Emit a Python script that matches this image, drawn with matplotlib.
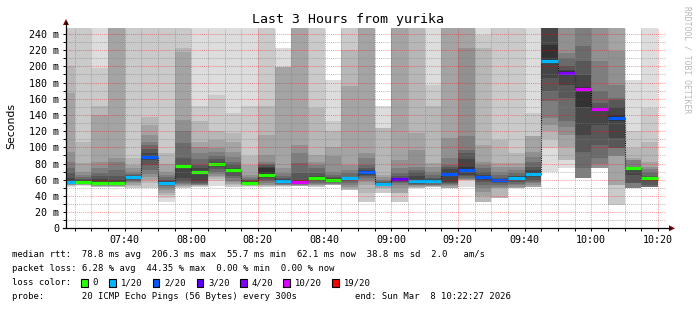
import matplotlib
matplotlib.use("Agg")
import matplotlib.pyplot as plt
from matplotlib.patches import Rectangle, Polygon
from matplotlib.lines import Line2D

# ---------------- data ----------------
# column end times (5-minute steps), minutes after 07:00
col_end = [25, 30, 35, 40, 45, 50, 55, 60, 65, 70, 75, 80, 85, 90, 95, 100, 105, 110,
           115, 120, 125, 130, 135, 140, 145, 150, 155, 160, 165, 170, 175, 180, 185, 190,
           195, 200]
# median rtt per column (ms)
median_ms = [57.6, 57.6, 55.7, 55.7, 63.1, 87.8, 56.4, 76.7, 70.0, 79.2, 72.5, 56.0,
             65.9, 58.5, 57.7, 62.6, 60.2, 61.8, 69.7, 55.2, 60.6, 58.1, 58.9, 67.6,
             72.5, 63.5, 59.3, 62.6, 67.6, 206.3, 191.7, 171.5, 146.8, 136.1, 74.2, 62.1]
# lost pings (out of 20) per column
loss = [1, 0, 0, 0, 1, 2, 1, 0, 0, 0, 0, 0, 0, 1, 10, 0, 0, 1, 2, 1, 3, 1, 1, 2,
        2, 2, 2, 1, 1, 1, 4, 10, 10, 2, 0, 0]
# sorted ping times per column (ms), 20 each ("smoke")
pings = [
    [51, 52, 53, 53.5, 54, 54.5, 55, 55.5, 56.5, 57, 58.5, 62, 68, 74, 82.5, 94.8, 167, 200, 260, 260],
    [52, 53, 53.5, 54, 54.5, 55, 55.5, 56, 56.5, 57, 58.3, 59.5, 61, 63, 66, 70, 80.4, 107, 260, 260],
    [50.5, 51, 51.5, 52, 52.5, 53, 53.5, 54, 54.5, 55, 57.5, 61, 64, 68, 74, 82.5, 140, 150.5, 198, 260],
    [50.5, 51, 51.5, 52, 52.5, 53, 53.5, 54, 54.5, 55, 57.5, 60, 64, 72, 82.5, 86.6, 260, 260, 260, 260],
    [49.5, 49.5, 52.5, 54, 56, 57, 58, 59.5, 61, 62.5, 63.5, 64.5, 65.5, 67, 70, 74, 78.4, 86.6, 260, 260],
    [49.5, 49.5, 56, 60, 63, 67, 72, 78, 84, 87, 89, 93, 98, 103, 107, 115.5, 128, 138, 260, 260],
    [32, 37, 41, 44, 47, 50, 52, 54, 55.3, 56, 57, 58, 60, 63, 66, 70, 80, 92.8, 260, 260],
    [49.5, 50, 51, 52, 53, 54.5, 56, 58, 62, 75, 77.5, 78.4, 86.6, 105, 119.6, 134, 218, 222.7, 260, 260],
    [50.5, 51, 52, 53, 53.5, 54, 55, 56, 58, 69, 71, 74, 78.4, 85, 92.8, 100, 107, 132, 150.5, 260],
    [52.8, 59, 61, 63, 65, 67, 70, 73, 76, 78, 80, 82, 85, 88.7, 94, 99, 109.3, 119.6, 164.9, 260],
    [51.5, 51.5, 53, 55, 57, 59, 62, 65, 68, 71, 73.5, 75, 78, 82.5, 88, 94.8, 107.2, 117.5, 142.3, 260],
    [51.5, 52, 52.5, 53, 53.5, 54, 54.4, 54.5, 55, 55.5, 57, 58, 59.8, 61, 63, 66, 78.4, 88.7, 150.5, 260],
    [51.5, 51.5, 52, 53, 54, 56, 58, 60, 62, 64, 74, 76.3, 78, 80, 82.5, 90.7, 115.5, 150.5, 260, 260],
    [51.5, 52, 52.5, 53, 53.5, 54, 55, 56, 57, 57.5, 59.5, 60.5, 62, 64, 68, 74.2, 198.8, 198.8, 198.8, 222.7],
    [52, 52, 52, 52.5, 53.5, 54, 55, 56, 56.5, 57, 58.5, 60, 68, 80.4, 92.8, 103, 260, 260, 260, 260],
    [51.5, 51.5, 52, 53, 54, 55, 56.5, 58.5, 60, 61.5, 63.5, 65, 68, 74.2, 78, 82.5, 90.7, 148.5, 260, 260],
    [53.6, 53.6, 53.6, 54, 54.5, 55, 55.7, 57, 58.5, 59.5, 61, 62, 63.9, 66, 70, 88.7, 101, 119.6, 132, 183.5],
    [47.4, 47.4, 47.4, 49.5, 51.5, 53.6, 55.7, 58, 60, 61, 62.3, 63, 63.9, 68, 72.2, 78.4, 175.3, 220.6, 260, 260],
    [33, 33, 43.3, 53.6, 57, 59.8, 62, 64, 66, 68, 71, 72.5, 75, 78.4, 86.6, 92.8, 260, 260, 260, 260],
    [43.3, 43.3, 49.5, 49.5, 53, 53.5, 54, 54.3, 54.6, 54.9, 56, 56.5, 57.5, 58.5, 59.8, 63, 66, 123.7, 123.7, 150.5],
    [33, 33, 43.3, 43.3, 50, 53.6, 55.5, 57, 58.5, 59.8, 61.5, 62.5, 64, 68, 74.2, 84.5, 260, 260, 260, 260],
    [49.5, 49.5, 50, 51, 52, 53, 54, 55, 56, 57, 60, 64, 70.1, 72, 76.3, 96.9, 117.5, 260, 260, 260],
    [51.5, 51.5, 51.5, 52, 52.5, 53, 54, 55.5, 57, 58, 59.5, 60.5, 61.9, 66, 70.1, 76, 80.4, 150.5, 177.3, 260],
    [49.5, 49.5, 49.5, 49.5, 52, 54, 55, 56, 57.7, 66, 69, 73, 76, 78.4, 86.6, 111.3, 260, 260, 260, 260],
    [51.5, 59.8, 59.8, 59.8, 59.8, 61, 62, 64, 66, 70, 76, 85, 92.8, 96.9, 113.4, 222.7, 260, 260, 260, 260],
    [33, 33, 33, 40, 45.4, 49.5, 53.6, 57, 60, 62.5, 64.5, 66, 70, 74.2, 78, 82.5, 103.1, 222.7, 239.2, 260],
    [37, 37, 37, 49.5, 49.5, 51.5, 53.6, 55.5, 57.5, 58.5, 60, 61, 61.9, 66, 70.1, 76, 80.4, 109.3, 260, 260],
    [49.5, 49.5, 49.5, 49.5, 51.5, 53.6, 55, 57.5, 60, 61.5, 63.2, 64, 65.2, 68, 72.2, 76, 80.4, 92.8, 260, 260],
    [51.5, 51.5, 51.5, 51.5, 54, 56, 57.7, 60, 63, 66, 69.5, 72, 76, 82.5, 88, 94.8, 113.4, 113.4, 142.3, 260],
    [70, 99, 110, 120, 127.8, 136, 156.7, 169, 185.6, 206.3, 226.8, 260, 260, 260, 260, 260, 260, 260, 260, 260],
    [74.2, 84.5, 84.5, 100, 115.5, 125, 132, 160.8, 177.3, 189.7, 193.8, 196, 200, 210.3, 216.5, 260, 260, 260, 260, 260],
    [61.9, 61.9, 61.9, 61.9, 61.9, 61.9, 74.2, 94.8, 115.5, 150, 175, 189.7, 206.2, 224.7, 260, 260, 260, 260, 260, 260],
    [74.2, 74.2, 74.2, 74.2, 74.2, 80, 86.6, 103.1, 127.8, 146, 148.5, 150, 154.6, 169.1, 206.2, 260, 260, 260, 260, 260],
    [28.9, 28.9, 53.6, 53.6, 88.7, 88.7, 99, 99, 111.3, 133, 140.2, 150, 158, 160.8, 177.3, 218.6, 260, 260, 260, 260],
    [49.5, 49.5, 49.5, 49.5, 49.5, 49.5, 55.7, 55.7, 66, 72, 75, 75.3, 75.6, 76.3, 84, 84, 86.6, 99, 119.6, 183.5],
    [51.5, 51.5, 51.5, 51.5, 51.5, 51.5, 51.5, 53.6, 59, 60.5, 62.8, 63.5, 64, 70.1, 73, 76, 82.5, 107.2, 148.5, 247.4],
]
loss_levels = [0, 1, 2, 3, 4, 10, 19]
loss_labels = ["0", "1/20", "2/20", "3/20", "4/20", "10/20", "19/20"]
loss_colors = ["#26ff00", "#00b8ff", "#0059ff", "#5e00ff", "#7e00ff", "#dd00ff", "#ff0000"]
x_tick_min = [40, 60, 80, 100, 120, 140, 160, 180, 200]
x_tick_lab = ["07:40", "08:00", "08:20", "08:40", "09:00", "09:20", "09:40", "10:00", "10:20"]
y_ticks = [0, 20, 40, 60, 80, 100, 120, 140, 160, 180, 200, 220, 240]
y_tick_lab = ["0"] + ["%d m" % v for v in y_ticks[1:]]

title = "Last 3 Hours from yurika"
stats1 = "median rtt:  78.8 ms avg  206.3 ms max  55.7 ms min  62.1 ms now  38.8 ms sd  2.0   am/s"
stats2 = "packet loss: 6.28 % avg  44.35 % max  0.00 % min  0.00 % now"
probe = "probe:       20 ICMP Echo Pings (56 Bytes) every 300s"
end_txt = "end: Sun Mar  8 10:22:27 2026"

# ---------------- figure ----------------
W, H = 697, 310
fig = plt.figure(figsize=(W / 100, H / 100), dpi=100)
fig.patch.set_facecolor("white")
MONO = "DejaVu Sans Mono"

def fx(px):
    return px / W

def fy(py):
    return 1 - py / H

left, right, top, bottom = 66, 666, 28, 228.3
ax = fig.add_axes([fx(left), fy(bottom), (right - left) / W, (bottom - top) / H])
x0, x1 = 22.45, 202.45
ymax = 247.4
ax.set_xlim(x0, x1)
ax.set_ylim(0, ymax)
ax.set_facecolor("white")

step = 5
# smoke
for k in range(10):
    g = int(190 / 10 * (10 - (k + 1))) + 50
    col = "#%02x%02x%02x" % (g, g, g)
    for i, e in enumerate(col_end):
        lo = pings[i][k]
        hi = pings[i][19 - k]
        if hi > lo:
            ax.bar(e - step, hi - lo, width=step, bottom=lo, align="edge",
                   color=col, linewidth=0, antialiased=False, zorder=2)

def loss_color(l):
    c = loss_colors[0]
    for lv, cc in zip(loss_levels, loss_colors):
        if l >= lv:
            c = cc
    return c

# median connectors
for i in range(1, len(col_end)):
    a, b = median_ms[i - 1], median_ms[i]
    if abs(a - b) > 0.5:
        ax.vlines(col_end[i - 1], min(a, b), max(a, b), colors="#000000",
                  linestyles=(0, (1, 1)), linewidth=0.8, zorder=3)
# median segments
for i, e in enumerate(col_end):
    ax.hlines(median_ms[i], e - step, e, colors=loss_color(loss[i]), linewidth=2.3, zorder=4)

# grid
for v in range(10, 250, 10):
    c = (1, 0, 0, 0.38) if v % 20 == 0 else (0.5, 0.5, 0.5, 0.5)
    ax.axhline(v, color=c, linewidth=0.75, linestyle=(0, (1, 1)), zorder=5)
for m in range(25, 203, 5):
    c = (1, 0, 0, 0.38) if m % 20 == 0 else (0.5, 0.5, 0.5, 0.5)
    ax.axvline(m, color=c, linewidth=0.75, linestyle=(0, (1, 1)), zorder=5)

ax.set_yticks(y_ticks)
ax.set_yticklabels(y_tick_lab, family=MONO, fontsize=7.2)
ax.set_yticks(list(range(10, 250, 20)), minor=True)
ax.set_xticks(x_tick_min)
ax.set_xticklabels(x_tick_lab, family=MONO, fontsize=7.2)
ax.set_xticks(list(range(25, 203, 5)), minor=True)
ax.tick_params(which="both", direction="out", length=2, width=0.7, color="black")
ax.tick_params(axis="y", which="major", pad=3)
ax.tick_params(axis="x", which="major", pad=3)
for s in ["top", "right", "left", "bottom"]:
    ax.spines[s].set_visible(False)

# axis lines with arrows
fig.add_artist(Line2D([fx(left), fx(left)], [fy(bottom), fy(22)], color="black", lw=0.9))
fig.add_artist(Line2D([fx(left - 3), fx(670)], [fy(bottom), fy(bottom)], color="black", lw=0.9))
fig.add_artist(Polygon([[fx(left - 3), fy(25)], [fx(left + 3), fy(25)], [fx(left), fy(19)]],
                       closed=True, color="#800000", lw=0))
fig.add_artist(Polygon([[fx(669), fy(bottom - 3)], [fx(669), fy(bottom + 3)], [fx(675), fy(bottom)]],
                       closed=True, color="#800000", lw=0))

# texts
fig.text(fx(348), fy(19.5), title, family=MONO, fontsize=9.5, ha="center", va="center")
fig.text(fx(11), fy(126), "Seconds", family="DejaVu Sans", fontsize=7.8, rotation=90,
         ha="center", va="center")
fig.text(fx(686.5), fy(60), "RRDTOOL / TOBI OETIKER", family=MONO, fontsize=5.8,
         rotation=270, ha="center", va="center", color="#b8b8b8")

LF = 6.4
def ltxt(x, y, s, ha="left"):
    fig.text(fx(x), fy(y), s, family=MONO, fontsize=LF, ha=ha, va="center")

ltxt(12, 254.3, stats1)
ltxt(12, 268.5, stats2)
ltxt(12, 282.5, "loss color:")
box_x = [81, 109, 152.7, 196.7, 240, 283.3, 332.3]
for bx, lab, c in zip(box_x, loss_labels, loss_colors):
    fig.add_artist(Rectangle((fx(bx), fy(286.5)), 6.5 / W, 8 / H, facecolor=c,
                             edgecolor="black", linewidth=0.8))
    ltxt(bx + 11.5, 282.5, lab)
ltxt(12, 296.5, probe)
ltxt(510.5, 296.5, end_txt, ha="right")

fig.savefig("out.png", dpi=100)
